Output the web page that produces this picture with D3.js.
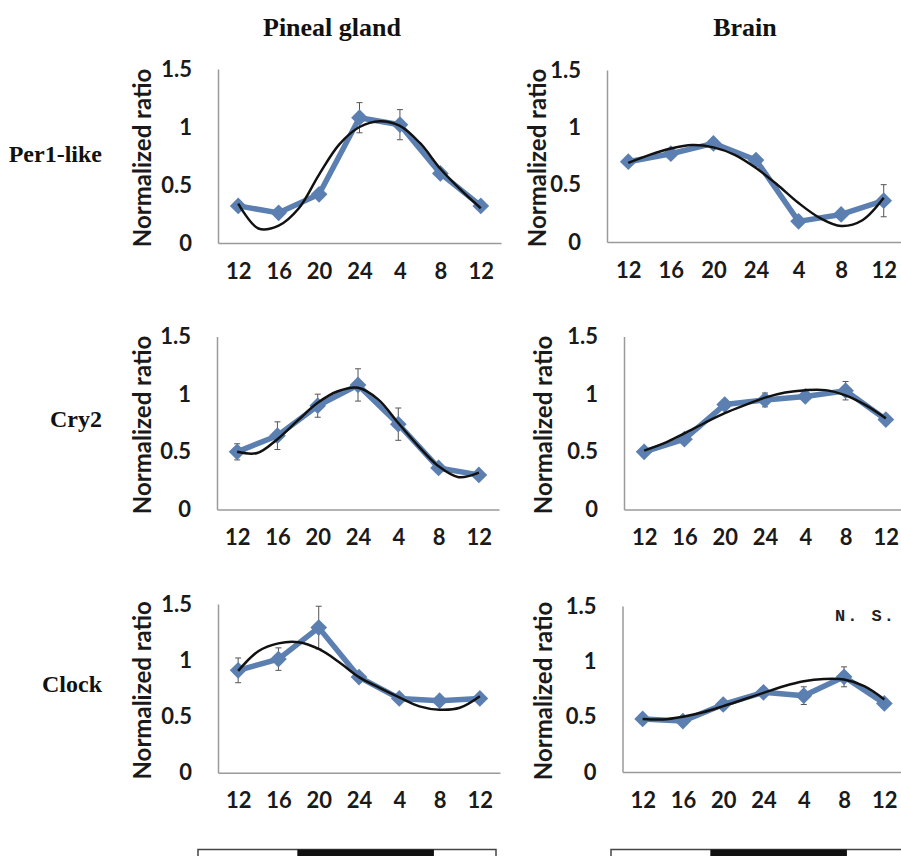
<!DOCTYPE html>
<html><head><meta charset="utf-8">
<script src="https://cdn.jsdelivr.net/npm/d3@7"></script>
<style>body{margin:0;background:#fff}</style>
</head><body><svg id="c" width="901" height="856"></svg>
<script>
// ---------- data ----------
const times = ["12","16","20","24","4","8","12"];
const yTickValues = [0, 0.5, 1, 1.5];
const yTickLabels = ["0", "0.5", "1", "1.5"];
const genes = ["Per1-like", "Cry2", "Clock"];
const tissues = ["Pineal gland", "Brain"];
const yAxisTitle = "Normalized ratio";
const nsLabel = "N. S.";
// fitted-curve sample positions (in time-point index units)
const fitPositions = [0,0.5,1,1.5,2,2.5,3,3.5,4,4.5,5,5.5,6];

const per1Pineal    = [0.32, 0.26, 0.42, 1.08, 1.02, 0.60, 0.32];
const per1PinealErr = [0.02, 0.02, 0.03, 0.13, 0.13, 0.03, 0.02];
const per1PinealFit = [0.34, 0.125, 0.15, 0.30, 0.59, 0.85, 1.00, 1.05, 1.01, 0.86, 0.64, 0.46, 0.30];

const per1Brain     = [0.70, 0.77, 0.86, 0.715, 0.18, 0.24, 0.36];
const per1BrainErr  = [0.03, 0.02, 0.02, 0.03, 0.02, 0.02, 0.14];
const per1BrainFit  = [0.69, 0.76, 0.815, 0.845, 0.825, 0.76, 0.645, 0.50, 0.34, 0.21, 0.14, 0.19, 0.385];

const cry2Pineal    = [0.50, 0.64, 0.90, 1.08, 0.74, 0.36, 0.30];
const cry2PinealErr = [0.07, 0.12, 0.10, 0.14, 0.14, 0.03, 0.03];
const cry2PinealFit = [0.50, 0.49, 0.61, 0.77, 0.925, 1.025, 1.055, 0.955, 0.75, 0.55, 0.375, 0.28, 0.32];

const cry2Brain     = [0.50, 0.61, 0.91, 0.95, 0.98, 1.03, 0.78];
const cry2BrainErr  = [0.02, 0.03, 0.04, 0.06, 0.03, 0.08, 0.03];
const cry2BrainFit  = [0.51, 0.575, 0.66, 0.75, 0.835, 0.905, 0.97, 1.015, 1.035, 1.035, 0.99, 0.905, 0.79];

const clockPineal    = [0.91, 1.01, 1.29, 0.85, 0.66, 0.64, 0.66];
const clockPinealErr = [0.11, 0.10, 0.19, 0.03, 0.02, 0.02, 0.04];
const clockPinealFit = [0.905, 1.08, 1.15, 1.16, 1.10, 0.985, 0.85, 0.757, 0.67, 0.59, 0.56, 0.577, 0.68];

const clockBrain     = [0.48, 0.46, 0.61, 0.72, 0.69, 0.86, 0.62];
const clockBrainErr  = [0.02, 0.03, 0.04, 0.04, 0.08, 0.09, 0.02];
const clockBrainFit  = [0.48, 0.475, 0.50, 0.54, 0.595, 0.655, 0.715, 0.775, 0.82, 0.84, 0.835, 0.775, 0.655];

// light/dark bar: dark phase in hours after 12:00 (20:00 -> 07:00)
const cycleHours = 24;
const darkPhase = [8, 19];

// ---------- layout ----------
const layouts = [
  {x0:218, x1:501, y0:243,   yTop:69,    tx:141},
  {x0:607, x1:905, y0:242,   yTop:70,    tx:536},
  {x0:217, x1:499, y0:509.5, yTop:336.5, tx:141},
  {x0:624, x1:906, y0:509.5, yTop:336.5, tx:542},
  {x0:218, x1:500, y0:772.7, yTop:604,   tx:141},
  {x0:622.5, x1:904.5, y0:772, yTop:606, tx:542}
];
const panels = [
  {v:per1Pineal,  e:per1PinealErr,  f:per1PinealFit},
  {v:per1Brain,   e:per1BrainErr,   f:per1BrainFit},
  {v:cry2Pineal,  e:cry2PinealErr,  f:cry2PinealFit},
  {v:cry2Brain,   e:cry2BrainErr,   f:cry2BrainFit},
  {v:clockPineal, e:clockPinealErr, f:clockPinealFit},
  {v:clockBrain,  e:clockBrainErr,  f:clockBrainFit, ns:true}
];

const svg = d3.select("#c");
const sansFont = "Lato, 'Open Sans', sans-serif";
const serifFont = "'Liberation Serif', 'Times New Roman', serif";
const blue = "#5b7fb0";

panels.forEach((p, k) => {
  const L = layouts[k];
  const idx = d3.range(times.length);
  const x = d3.scalePoint().domain(idx).range([L.x0, L.x1]).padding(0.5);
  const xf = d3.scaleLinear().domain([-0.5, times.length - 0.5]).range([L.x0, L.x1]);
  const y = d3.scaleLinear().domain([0, 1.5]).range([L.y0, L.yTop]);
  const g = svg.append("g");

  const yAx = g.append("g").attr("transform", `translate(${L.x0},0)`)
    .call(d3.axisLeft(y).tickValues(yTickValues).tickFormat((d, i) => yTickLabels[i])
      .tickSize(0).tickPadding(26));
  const xAx = g.append("g").attr("transform", `translate(0,${L.y0})`)
    .call(d3.axisBottom(x).tickFormat(i => times[i]).tickSize(0).tickPadding(20));
  [yAx, xAx].forEach(a => {
    a.select(".domain").attr("stroke", "#9a9a9a").attr("stroke-width", 1.5);
    a.selectAll("text").attr("font-family", sansFont).attr("font-weight", "bold")
      .attr("font-size", 22).attr("fill", "#1a1a1a");
  });

  g.append("text")
    .attr("transform", `translate(${L.tx},${(L.y0 + L.yTop) / 2 + 2}) rotate(-90)`)
    .attr("text-anchor", "middle").attr("dominant-baseline", "central")
    .attr("font-family", sansFont).attr("font-weight", "bold").attr("font-size", 24)
    .attr("fill", "#1a1a1a").text(yAxisTitle);

  // error bars
  const eb = g.append("g").attr("stroke", "#555").attr("stroke-width", 1);
  idx.forEach(i => {
    const cx = x(i), top = y(p.v[i] + p.e[i]), bot = y(p.v[i] - p.e[i]);
    eb.append("line").attr("x1", cx).attr("x2", cx).attr("y1", top).attr("y2", bot);
    eb.append("line").attr("x1", cx - 3).attr("x2", cx + 3).attr("y1", top).attr("y2", top);
    eb.append("line").attr("x1", cx - 3).attr("x2", cx + 3).attr("y1", bot).attr("y2", bot);
  });

  // data line
  g.append("path").datum(idx)
    .attr("d", d3.line().x(i => x(i)).y(i => y(p.v[i])))
    .attr("fill", "none").attr("stroke", blue).attr("stroke-width", 5.5)
    .attr("stroke-linejoin", "round");
  // markers
  g.selectAll(".m").data(idx).enter().append("path")
    .attr("d", d3.symbol().type(d3.symbolSquare).size(140))
    .attr("transform", i => `translate(${x(i)},${y(p.v[i])}) rotate(45)`)
    .attr("fill", blue);

  // fitted curve
  g.append("path").datum(fitPositions)
    .attr("d", d3.line().x((t) => xf(t)).y((t, j) => y(p.f[j])).curve(d3.curveCatmullRom.alpha(0.5)))
    .attr("fill", "none").attr("stroke", "#111").attr("stroke-width", 2.5);

  if (p.ns) {
    svg.append("text").attr("x", 835).attr("y", 621)
      .attr("font-family", "'Liberation Mono', 'Courier New', monospace")
      .attr("font-weight", "bold").attr("font-size", 17).attr("letter-spacing", 2)
      .attr("fill", "#222").text(nsLabel);
  }
});

// column titles
const colTitleX = [332, 745];
tissues.forEach((t, i) => {
  svg.append("text").attr("x", colTitleX[i]).attr("y", 36).attr("text-anchor", "middle")
    .attr("font-family", serifFont).attr("font-weight", "bold").attr("font-size", 26)
    .attr("fill", "#111").text(t);
});
// row labels
const rowLabelY = [162, 427, 692];
genes.forEach((gname, i) => {
  svg.append("text").attr("x", 102).attr("y", rowLabelY[i]).attr("text-anchor", "end")
    .attr("font-family", serifFont).attr("font-weight", "bold").attr("font-size", 24)
    .attr("fill", "#111").text(gname);
});

// light/dark bars
const barStarts = [198, 611];
barStarts.forEach(bx => {
  const h = d3.scaleLinear().domain([0, cycleHours]).range([bx, bx + 298]);
  svg.append("rect").attr("x", h(0)).attr("y", 849.5).attr("width", h(cycleHours) - h(0)).attr("height", 20)
    .attr("fill", "#fff").attr("stroke", "#444").attr("stroke-width", 1.5);
  svg.append("rect").attr("x", h(darkPhase[0])).attr("y", 849.5)
    .attr("width", h(darkPhase[1]) - h(darkPhase[0])).attr("height", 20).attr("fill", "#111");
});
</script>
</body></html>
